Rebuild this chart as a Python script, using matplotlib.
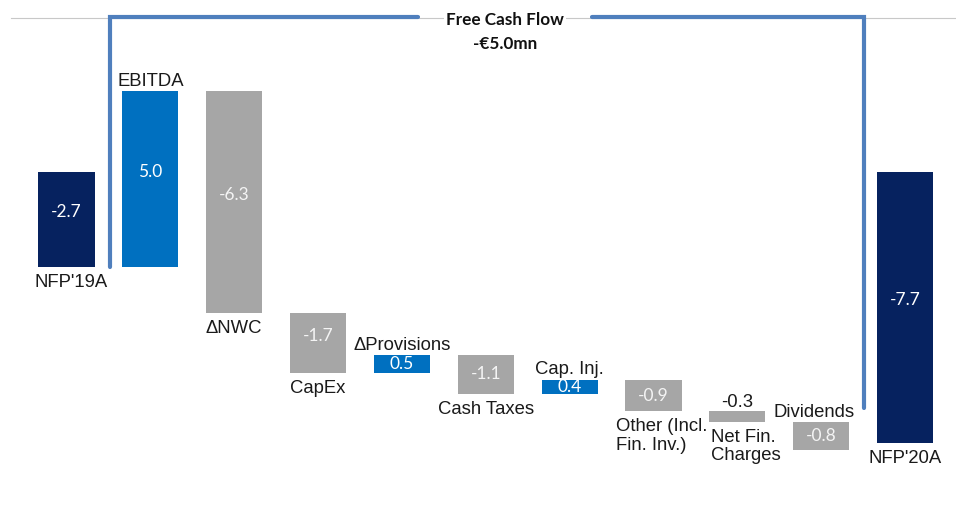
import matplotlib
matplotlib.use("Agg")
import matplotlib.pyplot as plt
import numpy as np

# Net financial position bridge, FY19 -> FY20 (EUR mn)
categories = ["NFP'19A", "EBITDA", "ΔNWC", "CapEx", "ΔProvisions", "Cash Taxes",
              "Cap. Inj.", "Other (Incl.\nFin. Inv.)", "Net Fin.\nCharges",
              "Dividends", "NFP'20A"]
values = [-2.7, 5.0, -6.3, -1.7, 0.5, -1.1, 0.4, -0.9, -0.3, -0.8, -7.7]
is_total = [True, False, False, False, False, False, False, False, False, False, True]
fcf_label = ["Free Cash Flow", "-€5.0mn"]

NAVY = "#06225f"
BLUE = "#0070c0"
GREY = "#a6a6a6"
BRACKET = "#4f7fbd"

# where the category name goes: above or below its bar
label_side = ["below", "above", "below", "below", "above", "below",
              "above", "below", "below", "above", "below"]

fig = plt.figure(figsize=(9.56, 5.31), dpi=100)
ax = fig.add_axes([0, 0, 1, 1])
ax.set_xlim(-0.793, 10.608)
ax.set_ylim(-10.199, 4.886)
ax.axis("off")

# waterfall bottoms / tops
bottoms, tops, colors = [], [], []
running = 0.0
for v, tot in zip(values, is_total):
    if tot:
        lo, hi = min(0, v), max(0, v)
        running = v
        colors.append(NAVY)
    else:
        start = running
        running = running + v
        lo, hi = min(start, running), max(start, running)
        colors.append(BLUE if v > 0 else GREY)
    bottoms.append(lo)
    tops.append(hi)

x = np.arange(len(values))
heights = np.array(tops) - np.array(bottoms)
ax.bar(x, heights, bottom=bottoms, width=0.67, color=colors, zorder=3)

cat_font = dict(family="Liberation Sans", fontsize=13.3, color="#1a1a1a")
val_font = dict(family="Lato", fontsize=12.5)

for i, (v, lo, hi) in enumerate(zip(values, bottoms, tops)):
    # value labels
    if categories[i].startswith("Net Fin"):
        ax.annotate(f"{v:.1f}", (x[i], hi), xytext=(0, 0), textcoords="offset points",
                    ha="center", va="bottom", **cat_font, zorder=4)
    else:
        mid = (lo + hi) / 2
        if hi - lo > 1.5:
            mid += 0.2
        tc = "white" if colors[i] != GREY else "#f4f4f4"
        ax.text(x[i], mid, f"{v:.1f}", ha="center", va="center", color=tc,
                **val_font, zorder=4)

    # category labels
    dx = 0
    if "\n" in categories[i]:
        dx = 6
    if categories[i] == "Dividends":
        dx = -5
    if categories[i] == "NFP'19A":
        dx = 3
    if label_side[i] == "below":
        ax.annotate(categories[i], (x[i], lo), xytext=(dx, -5), textcoords="offset points",
                    ha="center", va="top", multialignment="left", linespacing=1.1,
                    **cat_font)
    else:
        ax.annotate(categories[i], (x[i], hi), xytext=(dx, 1), textcoords="offset points",
                    ha="center", va="bottom", **cat_font)

# thin rule across the top
ax.plot([-0.66, 10.608], [4.37, 4.37], color="#c8c8c8", lw=0.8, zorder=1)

# free cash flow bracket from EBITDA to Dividends
left_x, right_x, top_y = 0.519, 9.51, 4.41
ax.plot([left_x, left_x, 4.19], [values[0], top_y, top_y], color=BRACKET, lw=3,
        solid_capstyle="round", solid_joinstyle="miter", zorder=2)
ax.plot([6.27, right_x, right_x], [top_y, top_y, -6.70], color=BRACKET, lw=3,
        solid_capstyle="round", solid_joinstyle="miter", zorder=2)

ax.text(5.23, 4.32, fcf_label[0], ha="center", va="center", family="Lato",
        fontweight="bold", fontsize=12.3, color="#111111",
        bbox=dict(fc="white", ec="none", pad=1.5), zorder=5)
ax.text(5.23, 3.64, fcf_label[1], ha="center", va="center", family="Lato",
        fontweight="bold", fontsize=12.3, color="#111111", zorder=5)

fig.savefig("out.png", dpi=100, facecolor="white")
